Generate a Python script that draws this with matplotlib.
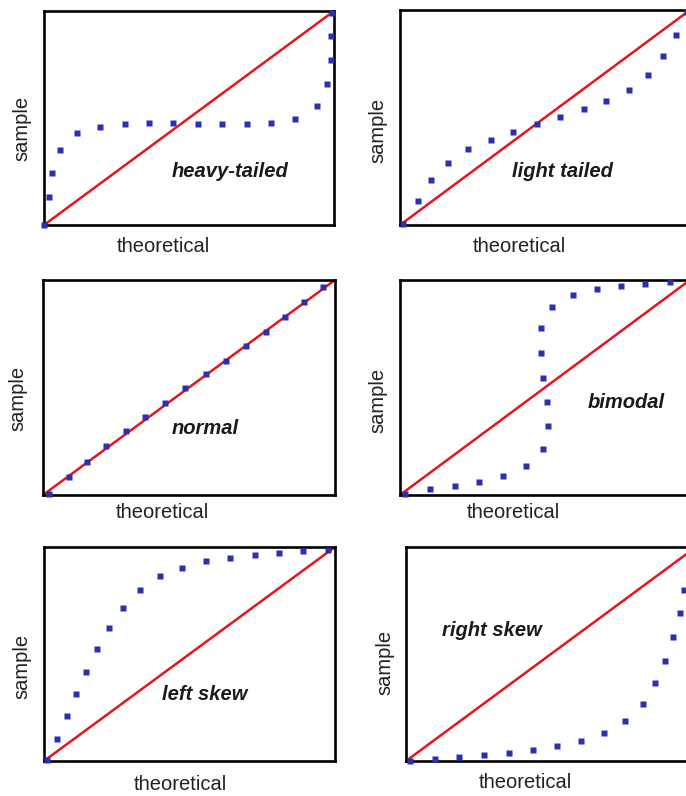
import matplotlib
matplotlib.use("Agg")
from matplotlib import pyplot as plt

plt.rcParams['font.family'] = ['Liberation Sans', 'DejaVu Sans']

# normalised sample points (x = theoretical, y = sample)
heavy_x = [0.0, 0.017, 0.028, 0.055, 0.114, 0.194, 0.278, 0.362, 0.446, 0.531,
           0.614, 0.699, 0.784, 0.866, 0.94, 0.977, 0.989, 0.989, 0.994]
heavy_y = [0.0, 0.13, 0.245, 0.35, 0.43, 0.46, 0.47, 0.478, 0.476, 0.473,
           0.47, 0.47, 0.478, 0.497, 0.556, 0.657, 0.77, 0.883, 0.99]

light_x = [0.011, 0.061, 0.106, 0.164, 0.233, 0.313, 0.391, 0.474, 0.552,
           0.633, 0.711, 0.79, 0.856, 0.908, 0.952, 0.99]
light_y = [0.005, 0.113, 0.207, 0.29, 0.353, 0.397, 0.434, 0.471, 0.504,
           0.54, 0.577, 0.628, 0.696, 0.786, 0.884, 0.99]

normal_x = [0.02, 0.088, 0.152, 0.217, 0.283, 0.351, 0.418, 0.488, 0.557,
            0.626, 0.695, 0.763, 0.828, 0.893, 0.958]
normal_y = [0.003, 0.084, 0.155, 0.228, 0.298, 0.364, 0.43, 0.496, 0.561,
            0.625, 0.693, 0.76, 0.829, 0.899, 0.969]

bimodal_x = [0.017, 0.105, 0.191, 0.274, 0.355, 0.433, 0.492, 0.51, 0.506,
             0.494, 0.485, 0.487, 0.523, 0.597, 0.678, 0.763, 0.846, 0.931, 1.0]
bimodal_y = [0.003, 0.026, 0.043, 0.062, 0.09, 0.133, 0.212, 0.321, 0.434,
             0.546, 0.662, 0.777, 0.876, 0.929, 0.957, 0.972, 0.981, 0.989, 0.995]

left_x = [0.01, 0.045, 0.078, 0.111, 0.146, 0.182, 0.222, 0.271, 0.329, 0.398,
          0.475, 0.557, 0.639, 0.725, 0.808, 0.891, 0.977]
left_y = [0.003, 0.103, 0.209, 0.315, 0.417, 0.522, 0.62, 0.715, 0.801, 0.864,
          0.903, 0.933, 0.95, 0.964, 0.974, 0.98, 0.988]

right_x = [0.014, 0.101, 0.184, 0.269, 0.354, 0.437, 0.521, 0.603, 0.684,
           0.756, 0.817, 0.859, 0.894, 0.921, 0.945, 0.96, 0.975, 0.99]
right_y = [0.0, 0.009, 0.017, 0.028, 0.039, 0.051, 0.069, 0.095, 0.133,
           0.186, 0.267, 0.363, 0.468, 0.579, 0.69, 0.8, 0.9, 0.99]

ref_x = [0.0, 1.0]
ref_y = [0.0, 1.0]

names = ['heavy-tailed', 'light tailed', 'normal', 'bimodal', 'left skew', 'right skew']
xs = [heavy_x, light_x, normal_x, bimodal_x, left_x, right_x]
ys = [heavy_y, light_y, normal_y, bimodal_y, left_y, right_y]

W, H = 686, 796
# box in pixels: left, top, right, bottom
boxes = [(44, 11, 334, 225), (400, 10, 690, 225),
         (43, 280, 335, 495), (400, 280, 690, 495),
         (44, 547, 335, 761), (406, 547, 696, 761)]
name_pos = [(0.64, 0.248), (0.56, 0.247), (0.555, 0.31),
            (0.78, 0.43), (0.553, 0.313), (0.297, 0.61)]
xlab_pos = [0.41, 0.41, 0.41, 0.39, 0.47, 0.41]
xlab_off = [22, 21, 18, 18, 24, 21]
ylab_x = [22, 378, 18, 378, 22, 385]
ylab_y = [0.453, 0.44, 0.45, 0.44, 0.44, 0.46]

fig = plt.figure(figsize=(W / 100, H / 100), dpi=100)

for i in range(6):
    l, t, r, b = boxes[i]
    ax = fig.add_axes([l / W, 1 - b / H, (r - l) / W, (b - t) / H])
    ax.set_xlim(0, 1)
    ax.set_ylim(0, 1)
    ax.set_xticks([])
    ax.set_yticks([])
    for s in ax.spines.values():
        s.set_linewidth(1.9)
        s.set_color('black')
    ax.plot(ref_x, ref_y, color='#e8141c', lw=1.8, zorder=2)
    ax.plot(xs[i], ys[i], ls='none', marker='s', ms=4.2, color='#2b2fb0',
            mec='none', clip_on=False, zorder=3)
    ax.text(name_pos[i][0], name_pos[i][1], names[i], transform=ax.transAxes,
            ha='center', va='center', fontsize=14.5, fontweight='bold',
            fontstyle='italic', color='#1a1a1a')
    # axis labels placed by hand
    ax.text(xlab_pos[i], -xlab_off[i] / (b - t), 'theoretical', transform=ax.transAxes,
            ha='center', va='center', fontsize=14.5, color='#222222')
    fig.text(ylab_x[i] / W, 1 - (b - ylab_y[i] * (b - t)) / H, 'sample',
             rotation=90, ha='center', va='center', fontsize=14.5, color='#222222')

plt.savefig('out.png', dpi=100)
